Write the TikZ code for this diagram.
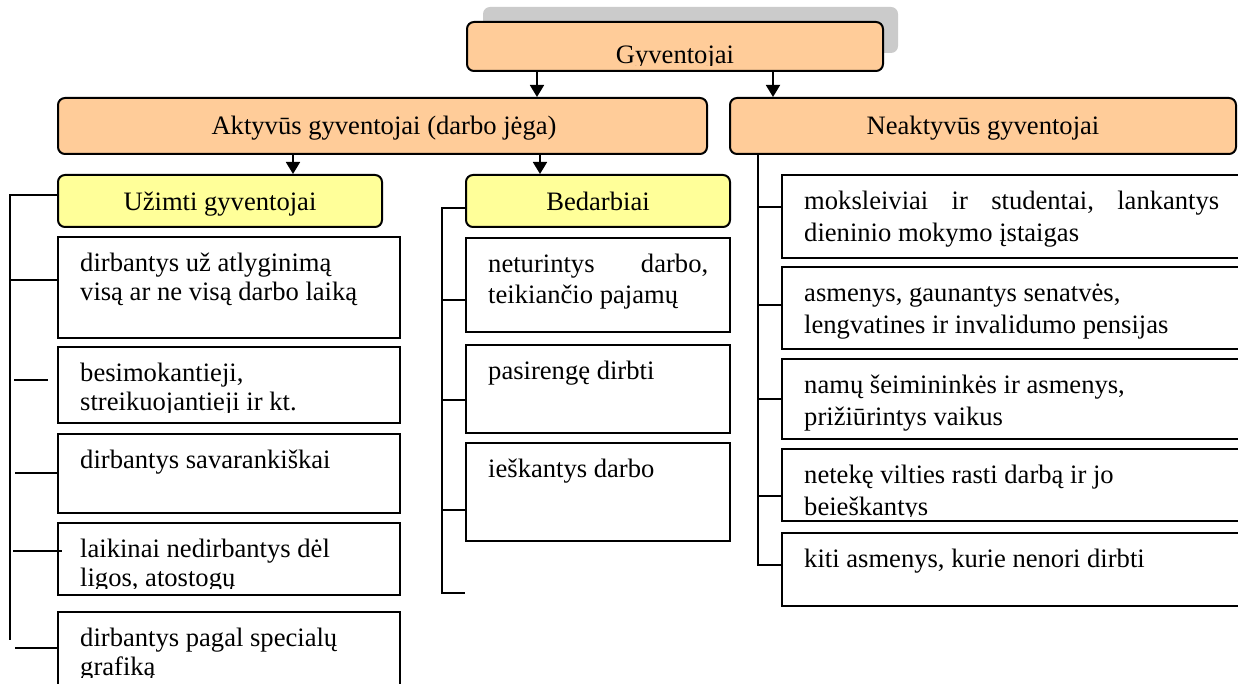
\documentclass[tikz,border=0pt]{standalone}
\usepackage{fontspec}
\setmainfont{Liberation Serif}
\usetikzlibrary{arrows.meta,fit}
\definecolor{orng}{HTML}{FFCC99}
\definecolor{ylw}{HTML}{FFFF99}
\definecolor{shd}{HTML}{CBCBCB}
\tikzset{
 hdr/.style={draw, line width=2pt, rounded corners=7pt, inner sep=0pt, fill=orng},
 subhdr/.style={hdr, fill=ylw},
 itm/.style={draw, line width=2pt, inner sep=0pt, fill=white},
 txt/.style={inner sep=0pt, font=\fontsize{26.6}{31.5}\selectfont},
 conn/.style={line width=1.8pt},
 arr/.style={conn, -{Triangle[width=14pt,length=12pt]}},
}
% name, x1, y1, x2, y2, clip bottom, text
\newcommand\ibox[7]{%
 \node[itm, fit={(#2,#3)(#4,#5)}] (#1) {};
 \begin{scope}
 \clip (#2,#3) rectangle (#4,#6);
 \node[txt, anchor=base west] (#1t) at (#2+22,#3+34.7) {#7};
 \end{scope}}
\newcommand\twol[3]{\vtop{\baselineskip=#1pt\hbox{#2}\hbox{#3}}}
\begin{document}
\begin{tikzpicture}[x=1pt,y=-1pt]
\useasboundingbox (0,0) rectangle (1238,684);
% top
\fill[shd, rounded corners=7pt] (483,7) rectangle (898,53);
\node[hdr, fit={(467,22)(883,71)}] (G) {};
\begin{scope}
\clip (467,22) rectangle (883,66);
\node[txt, anchor=base] (Gt) at (675,64) {Gyventojai};
\end{scope}
% level 2
\node[hdr, fit={(58,98)(707,154)}] (A) {};
\node[txt, anchor=base] (At) at (384,135) {Aktyvūs gyventojai (darbo jėga)};
\node[hdr, fit={(730,98)(1236,154)}] (N) {};
\node[txt, anchor=base] (Nt) at (983,135) {Neaktyvūs gyventojai};
% level 3
\node[subhdr, fit={(58,175)(382,227)}] (U) {};
\node[txt, anchor=base] (Ut) at (220,211) {Užimti gyventojai};
\node[subhdr, fit={(466,175)(730,227)}] (B) {};
\node[txt, anchor=base] (Bt) at (598,211) {Bedarbiai};
% arrows
\coordinate (xa) at (537,0);
\coordinate (xb) at (773,0);
\coordinate (xc) at (293,0);
\coordinate (xd) at (540,0);
\draw[arr] (G.south -| xa) -- (A.north -| xa);
\draw[arr] (G.south -| xb) -- (N.north -| xb);
\draw[arr] (A.south -| xc) -- (U.north -| xc);
\draw[arr] (A.south -| xd) -- (B.north -| xd);
% left column items
\ibox{u1}{58}{237}{400}{338}{327}{\twol{29}{dirbantys už atlyginimą}{visą ar ne visą darbo laiką}}
\ibox{u2}{58}{347}{400}{423}{412}{\twol{29}{besimokantieji,}{streikuojantieji ir kt.}}
\ibox{u3}{58}{434}{400}{513}{502}{dirbantys savarankiškai}
\ibox{u4}{58}{523}{400}{595}{588}{\twol{29}{laikinai nedirbantys dėl}{ligos, atostogų}}
\ibox{u5}{58}{612}{400}{700}{677}{\twol{29}{dirbantys pagal specialų}{grafiką}}
% Bedarbiai items
\ibox{b1}{466}{238}{730}{332}{321}{\twol{31}{\hbox to 220pt{neturintys\hfill{} darbo,}}{teikiančio pajamų}}
\ibox{b2}{466}{345}{730}{433}{422}{pasirengę dirbti}
\ibox{b3}{466}{443}{730}{541}{530}{ieškantys darbo}
% Neaktyvus items
\ibox{n1}{782}{175}{1242}{258}{250}{\twol{31.5}{\hbox to 415pt{moksleiviai\hfill{} ir\hfill{} studentai,\hfill{} lankantys}}{dieninio mokymo įstaigas}}
\ibox{n2}{782}{267}{1242}{349}{342}{\twol{31.5}{asmenys, gaunantys senatvės,}{lengvatines ir invalidumo pensijas}}
\ibox{n3}{782}{359}{1242}{439}{432}{\twol{31.5}{namų šeimininkės ir asmenys,}{prižiūrintys vaikus}}
\ibox{n4}{782}{449}{1242}{521}{516.5}{\twol{31.5}{netekę vilties rasti darbą ir jo}{beieškantys}}
\ibox{n5}{782}{533}{1242}{606}{598}{kiti asmenys, kurie nenori dirbti}
% left bracket
\coordinate (l0) at (10,195);
\coordinate (l1) at (10,640);
\coordinate (lt1) at (10,280);
\draw[conn] (U.west |- l0) -- (l0) -- (l1);
\draw[conn] (lt1) -- (u1.west |- lt1);
\coordinate (lt2) at (14,380);
\coordinate (lt2e) at (48,380);
\draw[conn] (lt2) -- (lt2e);
\coordinate (lt3) at (15,473);
\draw[conn] (lt3) -- (u3.west |- lt3);
\coordinate (lt4) at (13,551);
\coordinate (lt4e) at (62,551);
\draw[conn] (lt4) -- (lt4e);
\coordinate (lt5) at (15,648);
\draw[conn] (lt5) -- (u5.west |- lt5);
% Bedarbiai bracket
\coordinate (m0) at (442,208);
\coordinate (m1) at (442,593);
\draw[conn] (B.west |- m0) -- (m0) -- (m1) -- (b3.west |- m1);
\coordinate (mt1) at (442,300);
\coordinate (mt2) at (442,400);
\coordinate (mt3) at (442,510);
\draw[conn] (mt1) -- (b1.west |- mt1);
\draw[conn] (mt2) -- (b2.west |- mt2);
\draw[conn] (mt3) -- (b3.west |- mt3);
% Neaktyvus bracket
\coordinate (r0) at (758,154);
\coordinate (r1) at (758,565);
\draw[conn] (N.south -| r0) -- (r1) -- (n5.west |- r1);
\foreach \yy/\bb in {207/n1,305/n2,399/n3,496/n4}{
 \coordinate (rt) at (758,\yy);
 \draw[conn] (rt) -- (\bb.west |- rt);
}
\end{tikzpicture}
\end{document}
